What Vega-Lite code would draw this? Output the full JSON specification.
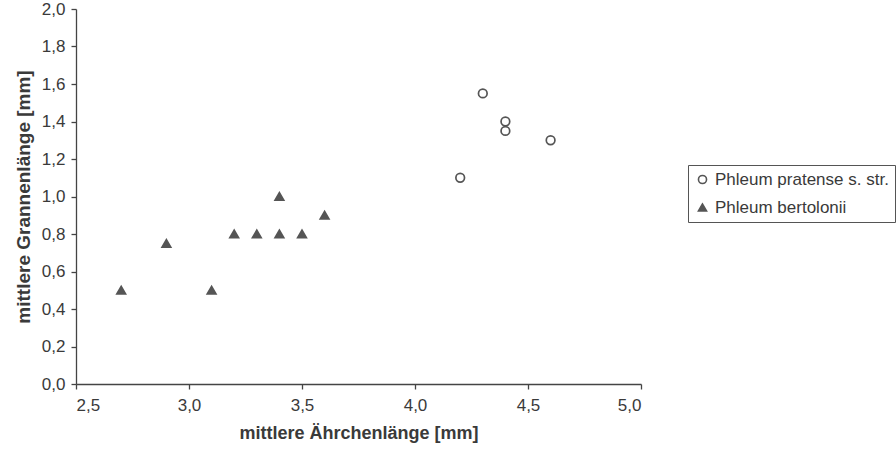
{
  "$schema": "https://vega.github.io/schema/vega-lite/v6.json",
  "autosize": "none",
  "width": 565,
  "height": 375,
  "padding": {"left": 76, "top": 9, "right": 255, "bottom": 74},
  "background": "white",
  "config": {
    "locale": {"number": {"decimal": ",", "thousands": ".", "grouping": [3], "currency": ["", " €"]}},
    "view": {"stroke": null},
    "font": "Liberation Sans"
  },
  "data": {"values": [
    {"spike": 4.2, "awn": 1.1, "species": "Phleum pratense s. str."},
    {"spike": 4.3, "awn": 1.55, "species": "Phleum pratense s. str."},
    {"spike": 4.4, "awn": 1.4, "species": "Phleum pratense s. str."},
    {"spike": 4.4, "awn": 1.35, "species": "Phleum pratense s. str."},
    {"spike": 4.6, "awn": 1.3, "species": "Phleum pratense s. str."},
    {"spike": 2.7, "awn": 0.5, "species": "Phleum bertolonii"},
    {"spike": 2.9, "awn": 0.75, "species": "Phleum bertolonii"},
    {"spike": 3.1, "awn": 0.5, "species": "Phleum bertolonii"},
    {"spike": 3.2, "awn": 0.8, "species": "Phleum bertolonii"},
    {"spike": 3.3, "awn": 0.8, "species": "Phleum bertolonii"},
    {"spike": 3.4, "awn": 0.8, "species": "Phleum bertolonii"},
    {"spike": 3.5, "awn": 0.8, "species": "Phleum bertolonii"},
    {"spike": 3.4, "awn": 1.0, "species": "Phleum bertolonii"},
    {"spike": 3.6, "awn": 0.9, "species": "Phleum bertolonii"}
  ]},
  "layer": [
    {
      "mark": {"type": "point", "size": 75, "strokeWidth": 1.7, "stroke": "#555555", "opacity": 1},
      "encoding": {
        "x": {"field": "spike", "type": "quantitative",
              "scale": {"domain": [2.5, 5.0], "nice": false, "zero": false},
              "axis": {"title": "mittlere Ährchenlänge [mm]", "values": [2.5, 3.0, 3.5, 4.0, 4.5, 5.0], "format": ".1f",
                       "grid": false, "domainColor": "#444", "domainWidth": 1.3, "tickColor": "#444", "tickWidth": 1.3, "tickSize": 5,
                       "labelFontSize": 17, "labelColor": "#3a3a3a", "labelPadding": 8,
                       "titleFontSize": 18, "titleFontWeight": "bold", "titleColor": "#3a3a3a", "titlePadding": 11}},
        "y": {"field": "awn", "type": "quantitative",
              "scale": {"domain": [0, 2.0], "nice": false},
              "axis": {"title": "mittlere Grannenlänge [mm]", "values": [0, 0.2, 0.4, 0.6, 0.8, 1.0, 1.2, 1.4, 1.6, 1.8, 2.0], "format": ".1f",
                       "grid": false, "domainColor": "#444", "domainWidth": 1.3, "tickColor": "#444", "tickWidth": 1.3, "tickSize": 5,
                       "labelFontSize": 17, "labelColor": "#3a3a3a", "labelPadding": 6,
                       "titleFontSize": 19, "titleFontWeight": "bold", "titleColor": "#3a3a3a", "titlePadding": 8}},
        "shape": {"field": "species", "type": "nominal",
                  "scale": {"domain": ["Phleum pratense s. str.", "Phleum bertolonii"], "range": ["circle", "triangle-up"]},
                  "legend": {"title": null, "orient": "none", "legendX": 612, "legendY": 156,
                             "strokeColor": "#555", "padding": 6, "labelFontSize": 17, "labelColor": "#3a3a3a", "labelLimit": 400,
                             "symbolSize": 65, "symbolStrokeWidth": 1.6, "rowPadding": 10, "labelOffset": 4}},
        "fill": {"field": "species", "type": "nominal",
                 "scale": {"domain": ["Phleum pratense s. str.", "Phleum bertolonii"], "range": ["white", "#555555"]},
                 "legend": {"title": null, "orient": "none", "legendX": 612, "legendY": 156,
                            "strokeColor": "#555", "padding": 6, "labelFontSize": 17, "labelColor": "#3a3a3a", "labelLimit": 400,
                            "symbolSize": 65, "symbolStrokeWidth": 1.6, "rowPadding": 10, "labelOffset": 4}}
      }
    }
  ]
}
